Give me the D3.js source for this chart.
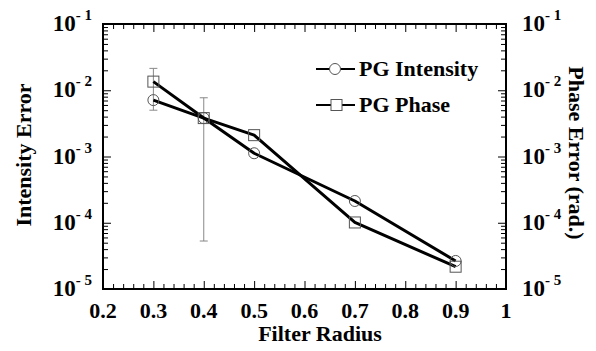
<!DOCTYPE html>
<html><head><meta charset="utf-8">
<script src="https://cdn.jsdelivr.net/npm/d3@7"></script>
<style>body{margin:0;background:#fff}svg{display:block}</style>
</head><body>
<script>
const radius = [0.3, 0.4, 0.5, 0.7, 0.9];
const intensityErr = [7.1e-3, 3.8e-3, 1.12e-3, 2.13e-4, 2.65e-5];
const phaseErr = [1.35e-2, 3.8e-3, 2.1e-3, 1.01e-4, 2.17e-5];
const barRadius = [0.3, 0.4];
const barLow = [5.0e-3, 5.3e-5];
const barHigh = [2.14e-2, 7.7e-3];
const xTicks = [0.2, 0.3, 0.4, 0.5, 0.6, 0.7, 0.8, 0.9, 1];
const yExps = [-1, -2, -3, -4, -5];
const seriesNames = ["PG Intensity", "PG Phase"];

const W = 596, H = 351;
const m = {l: 103, r: 506, t: 24, b: 289};
const font = "'Liberation Serif','Times New Roman',serif";
const svg = d3.select("body").append("svg").attr("width", W).attr("height", H);
const x = d3.scaleLinear().domain([0.2, 1]).range([m.l, m.r]);
const y = d3.scaleLog().domain([1e-5, 1e-1]).range([m.b, m.t]);

const xMinor = d3.range(0.2, 1.0001, 0.02);
const yMinor = [];
for (let e = -5; e < -1; e++) for (let k = 1; k <= 9; k++) yMinor.push(k * Math.pow(10, e));
yMinor.push(0.1);

function styleAxis(g) {
  g.select(".domain").remove();
  g.selectAll("line").attr("stroke", "#000").attr("stroke-width", 1);
  g.selectAll("text").remove();
}
const isMajorX = v => xTicks.some(t => Math.abs(t - v) < 1e-6);
const isMajorY = v => yExps.some(e => Math.abs(Math.log10(v) - e) < 1e-6);

svg.append("g").attr("transform", `translate(0,${m.b})`)
  .call(d3.axisTop(x).tickValues(xMinor).tickSize(0))
  .call(styleAxis)
  .selectAll(".tick line").attr("y2", d => isMajorX(d) ? -8 : -5);
svg.append("g").attr("transform", `translate(0,${m.t})`)
  .call(d3.axisBottom(x).tickValues(xMinor).tickSize(0))
  .call(styleAxis)
  .selectAll(".tick line").attr("y2", d => isMajorX(d) ? 8 : 5);
svg.append("g").attr("transform", `translate(${m.l},0)`)
  .call(d3.axisRight(y).tickValues(yMinor).tickSize(0))
  .call(styleAxis)
  .selectAll(".tick line").attr("x2", d => isMajorY(d) ? 8 : 5);
svg.append("g").attr("transform", `translate(${m.r},0)`)
  .call(d3.axisLeft(y).tickValues(yMinor).tickSize(0))
  .call(styleAxis)
  .selectAll(".tick line").attr("x2", d => isMajorY(d) ? -8 : -5);

svg.append("rect").attr("x", m.l).attr("y", m.t).attr("width", m.r - m.l).attr("height", m.b - m.t)
  .attr("fill", "none").attr("stroke", "#000").attr("stroke-width", 2);

svg.append("g").selectAll("text").data(xTicks).join("text")
  .attr("x", d => x(d)).attr("y", 318).attr("text-anchor", "middle")
  .attr("font-family", font).attr("font-weight", "bold").attr("font-size", 22)
  .text(d => d === 1 ? "1" : d.toFixed(1));

function expLabel(g, anchorX, anchor) {
  const t = g.selectAll("text").data(yExps).join("text")
    .attr("x", anchorX).attr("y", d => y(Math.pow(10, d)) + 7)
    .attr("text-anchor", anchor)
    .attr("font-family", font).attr("font-weight", "bold").attr("font-size", 23);
  t.append("tspan").text("10");
  t.append("tspan").attr("dy", -11).attr("font-size", 15).text(d => "- " + (-d));
}
expLabel(svg.append("g"), 92, "end");
expLabel(svg.append("g"), 522, "start");

svg.append("text").attr("transform", `translate(31,155) rotate(-90)`)
  .attr("text-anchor", "middle").attr("font-family", font).attr("font-weight", "bold").attr("font-size", 22)
  .text("Intensity Error");
svg.append("text").attr("transform", `translate(569,153) rotate(90)`)
  .attr("text-anchor", "middle").attr("font-family", font).attr("font-weight", "bold").attr("font-size", 22)
  .text("Phase Error (rad.)");
svg.append("text").attr("x", 320).attr("y", 341)
  .attr("text-anchor", "middle").attr("font-family", font).attr("font-weight", "bold").attr("font-size", 22)
  .text("Filter Radius");

const eb = svg.append("g").attr("stroke", "#888").attr("stroke-width", 1);
barRadius.forEach((r, i) => {
  eb.append("line").attr("x1", x(r)).attr("x2", x(r)).attr("y1", y(barLow[i])).attr("y2", y(barHigh[i]));
  [barLow[i], barHigh[i]].forEach(v =>
    eb.append("line").attr("x1", x(r) - 4).attr("x2", x(r) + 4).attr("y1", y(v)).attr("y2", y(v)));
});

const line = d3.line().x(d => x(d[0])).y(d => y(d[1]));
const intData = radius.map((r, i) => [r, intensityErr[i]]);
const phData = radius.map((r, i) => [r, phaseErr[i]]);
[intData, phData].forEach(d => svg.append("path").datum(d).attr("d", line)
  .attr("fill", "none").attr("stroke", "#000").attr("stroke-width", 3).attr("stroke-linejoin", "round"));

svg.append("g").selectAll("circle").data(intData).join("circle")
  .attr("cx", d => x(d[0])).attr("cy", d => y(d[1])).attr("r", 5.5)
  .attr("fill", "none").attr("stroke", "#555").attr("stroke-width", 1);
svg.append("g").selectAll("rect").data(phData).join("rect")
  .attr("x", d => x(d[0]) - 5.5).attr("y", d => y(d[1]) - 5.5).attr("width", 11).attr("height", 11)
  .attr("fill", "none").attr("stroke", "#555").attr("stroke-width", 1);

const leg = svg.append("g");
const legY = [69, 105];
seriesNames.forEach((name, i) => {
  leg.append("line").attr("x1", 316).attr("x2", 355).attr("y1", legY[i]).attr("y2", legY[i])
    .attr("stroke", "#000").attr("stroke-width", 2);
  if (i === 0) leg.append("circle").attr("cx", 335).attr("cy", legY[i]).attr("r", 5.5)
    .attr("fill", "#fff").attr("stroke", "#555");
  else leg.append("rect").attr("x", 331).attr("y", legY[i] - 5.5).attr("width", 11).attr("height", 11)
    .attr("fill", "#fff").attr("stroke", "#555");
  leg.append("text").attr("x", 359).attr("y", legY[i] + 7)
    .attr("font-family", font).attr("font-weight", "bold").attr("font-size", 22).text(name);
});
</script>
</body></html>
